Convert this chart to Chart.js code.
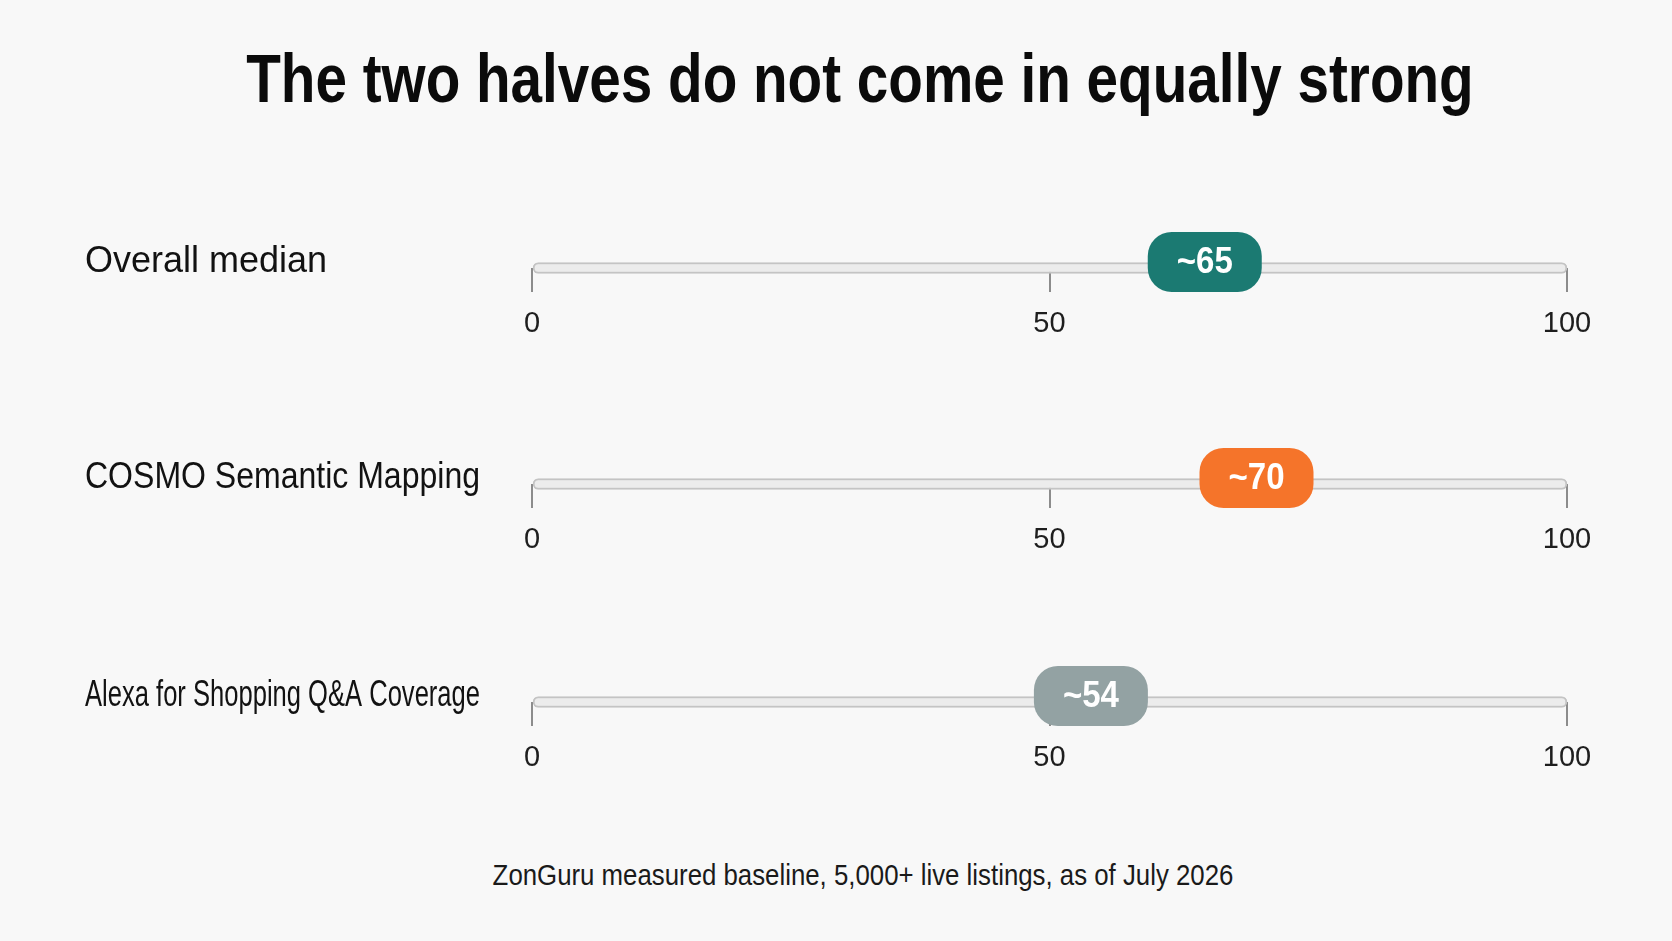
<!DOCTYPE html>
<html>
<head>
<meta charset="utf-8">
<script src="https://cdn.jsdelivr.net/npm/chart.js@4.4.1/dist/chart.umd.min.js"></script>
<style>
  html, body { margin: 0; padding: 0; background: #f8f8f8; }
  body { width: 1672px; height: 941px; position: relative; overflow: hidden; }
  #title {
    position: absolute; left: 24px; top: 44px; width: 1672px;
    text-align: center; font: bold 68px/1 "Liberation Sans", Arial, sans-serif; color: #0b0b0b;
    transform: scaleX(0.833); transform-origin: 50% 50%;
  }
  #footer {
    position: absolute; left: 27px; top: 860px; width: 1672px;
    text-align: center; font: 30px/1 "Liberation Sans", Arial, sans-serif; color: #1a1a1a;
    transform: scaleX(0.86); transform-origin: 50% 50%;
  }
  .row { position: absolute; left: 0; width: 1672px; height: 180px; }
</style>
</head>
<body>
<div id="title">The two halves do not come in equally strong</div>
<div class="row" id="row0"><canvas id="c0"></canvas></div>
<div class="row" id="row1"><canvas id="c1"></canvas></div>
<div class="row" id="row2"><canvas id="c2"></canvas></div>
<div id="footer">ZonGuru measured baseline, 5,000+ live listings, as of July 2026</div>

<script>
// data
const categories = ['Overall median', 'COSMO Semantic Mapping', 'Alexa for Shopping Q&A Coverage'];
const scores = [65, 70, 54];
const scoreLabels = ['~65', '~70', '~54'];
const axisTicks = [0, 50, 100];

// styling / layout
const pillColors = ['#1b7a72', '#f5742a', '#93a2a3'];
const trackCenters = [268, 484, 702];

// draws the row label on the left and the value pill on the track
const pillPlugin = {
    id: 'pill',
    afterDatasetsDraw(chart, args, opts) {
        const ctx = chart.ctx;
        const x = chart.scales.x.getPixelForValue(opts.value);
        const y = chart.scales.y.getPixelForValue(0) - 6;

        ctx.save();
        // row label
        ctx.fillStyle = '#121212';
        ctx.font = '36px "Liberation Sans", Arial, sans-serif';
        ctx.textAlign = 'left';
        ctx.textBaseline = 'middle';
        ctx.fillText(opts.label, 85, y, 395);

        // pill
        const w = 114, h = 60;
        ctx.fillStyle = opts.color;
        ctx.beginPath();
        ctx.roundRect(x - w / 2, y - h / 2, w, h, 24);
        ctx.fill();

        ctx.fillStyle = '#ffffff';
        ctx.font = 'bold 37px "Liberation Sans", Arial, sans-serif';
        ctx.textAlign = 'center';
        ctx.fillText(opts.text, x, y + 1, 56);
        ctx.restore();
    }
};

categories.forEach((cat, i) => {
    const chart = new Chart(document.getElementById('c' + i), {
        type: 'bar',
        data: {
            labels: [cat],
            datasets: [{
                data: [[axisTicks[0], axisTicks[axisTicks.length - 1]]],
                backgroundColor: '#ececec',
                borderColor: '#c4c4c4',
                borderWidth: 2,
                borderSkipped: false,
                borderRadius: 6,
                barThickness: 11,
                clip: false
            }]
        },
        options: {
            indexAxis: 'y',
            responsive: true,
            maintainAspectRatio: false,
            animation: false,
            layout: { padding: { left: 532, right: 105, top: 40, bottom: 0 } },
            plugins: {
                legend: { display: false },
                tooltip: { enabled: false },
                pill: { value: scores[i], text: scoreLabels[i], label: cat, color: pillColors[i] }
            },
            scales: {
                y: { display: false, offset: false, reverse: true },
                x: {
                    min: axisTicks[0],
                    max: axisTicks[axisTicks.length - 1],
                    afterBuildTicks: s => { s.ticks = axisTicks.map(v => ({ value: v })); },
                    border: { display: false },
                    grid: { drawOnChartArea: false, drawTicks: true, tickLength: 24, color: '#8c8c8c', lineWidth: 2 },
                    ticks: {
                        padding: 15,
                        color: '#1e1e1e',
                        font: { family: '"Liberation Sans", Arial, sans-serif', size: 29 }
                    }
                }
            }
        },
        plugins: [pillPlugin]
    });
    // put the track centre where it sits in the reference
    document.getElementById('row' + i).style.top = (trackCenters[i] - chart.chartArea.bottom) + 'px';
});
</script>
</body>
</html>
